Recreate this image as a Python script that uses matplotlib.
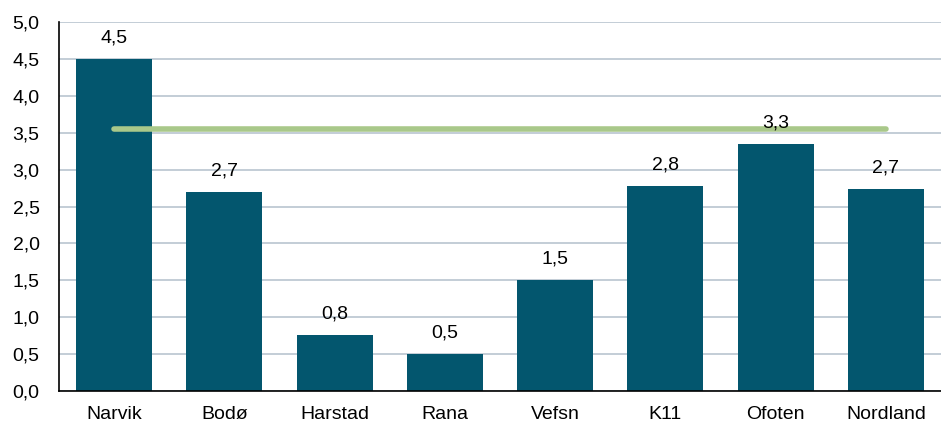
import matplotlib
matplotlib.use('Agg')
import matplotlib.pyplot as plt
from matplotlib.ticker import FuncFormatter
import numpy as np

plt.rcParams['font.family'] = ['Liberation Sans', 'DejaVu Sans']

# data
regions = ['Narvik', 'Bodø', 'Harstad', 'Rana', 'Vefsn', 'K11', 'Ofoten', 'Nordland']
values = [4.5, 2.7, 0.76, 0.5, 1.5, 2.78, 3.35, 2.74]
labels = ['4,5', '2,7', '0,8', '0,5', '1,5', '2,8', '3,3', '2,7']
reference = 3.55

bar_color = '#03566e'
line_color = '#a9c88a'
grid_color = '#b9c5cf'
fs = 14

fig = plt.figure(figsize=(9.41, 4.28), dpi=100)
ax = fig.add_axes([0.0627, 0.0864, 0.9373, 0.8622])

x = np.arange(len(regions))
ax.bar(x, values, width=0.69, color=bar_color, zorder=2)
ax.plot([x[0], x[-1]], [reference, reference], color=line_color, lw=4,
        solid_capstyle='round', zorder=3)

for xi, v, lab in zip(x, values, labels):
    ax.annotate(lab, (xi, v), xytext=(0, 9), textcoords='offset points',
                ha='center', va='bottom', fontsize=fs, zorder=4)

ax.set_xlim(-0.5, len(regions) - 0.5)
ax.set_ylim(0, 5)
ax.set_yticks(np.arange(0, 5.01, 0.5))
ax.yaxis.set_major_formatter(FuncFormatter(lambda v, p: f'{v:.1f}'.replace('.', ',')))
ax.set_xticks(x)
ax.set_xticklabels(regions)
ax.tick_params(axis='both', length=0, labelsize=fs)
ax.tick_params(axis='x', pad=11)
ax.tick_params(axis='y', pad=14)

ax.grid(axis='y', color=grid_color, lw=1.2, zorder=0)
ax.set_axisbelow(True)
for s in ['top', 'right']:
    ax.spines[s].set_visible(False)
for s in ['left', 'bottom']:
    ax.spines[s].set_color('black')
    ax.spines[s].set_linewidth(1.2)

fig.savefig('out.png', dpi=100)
